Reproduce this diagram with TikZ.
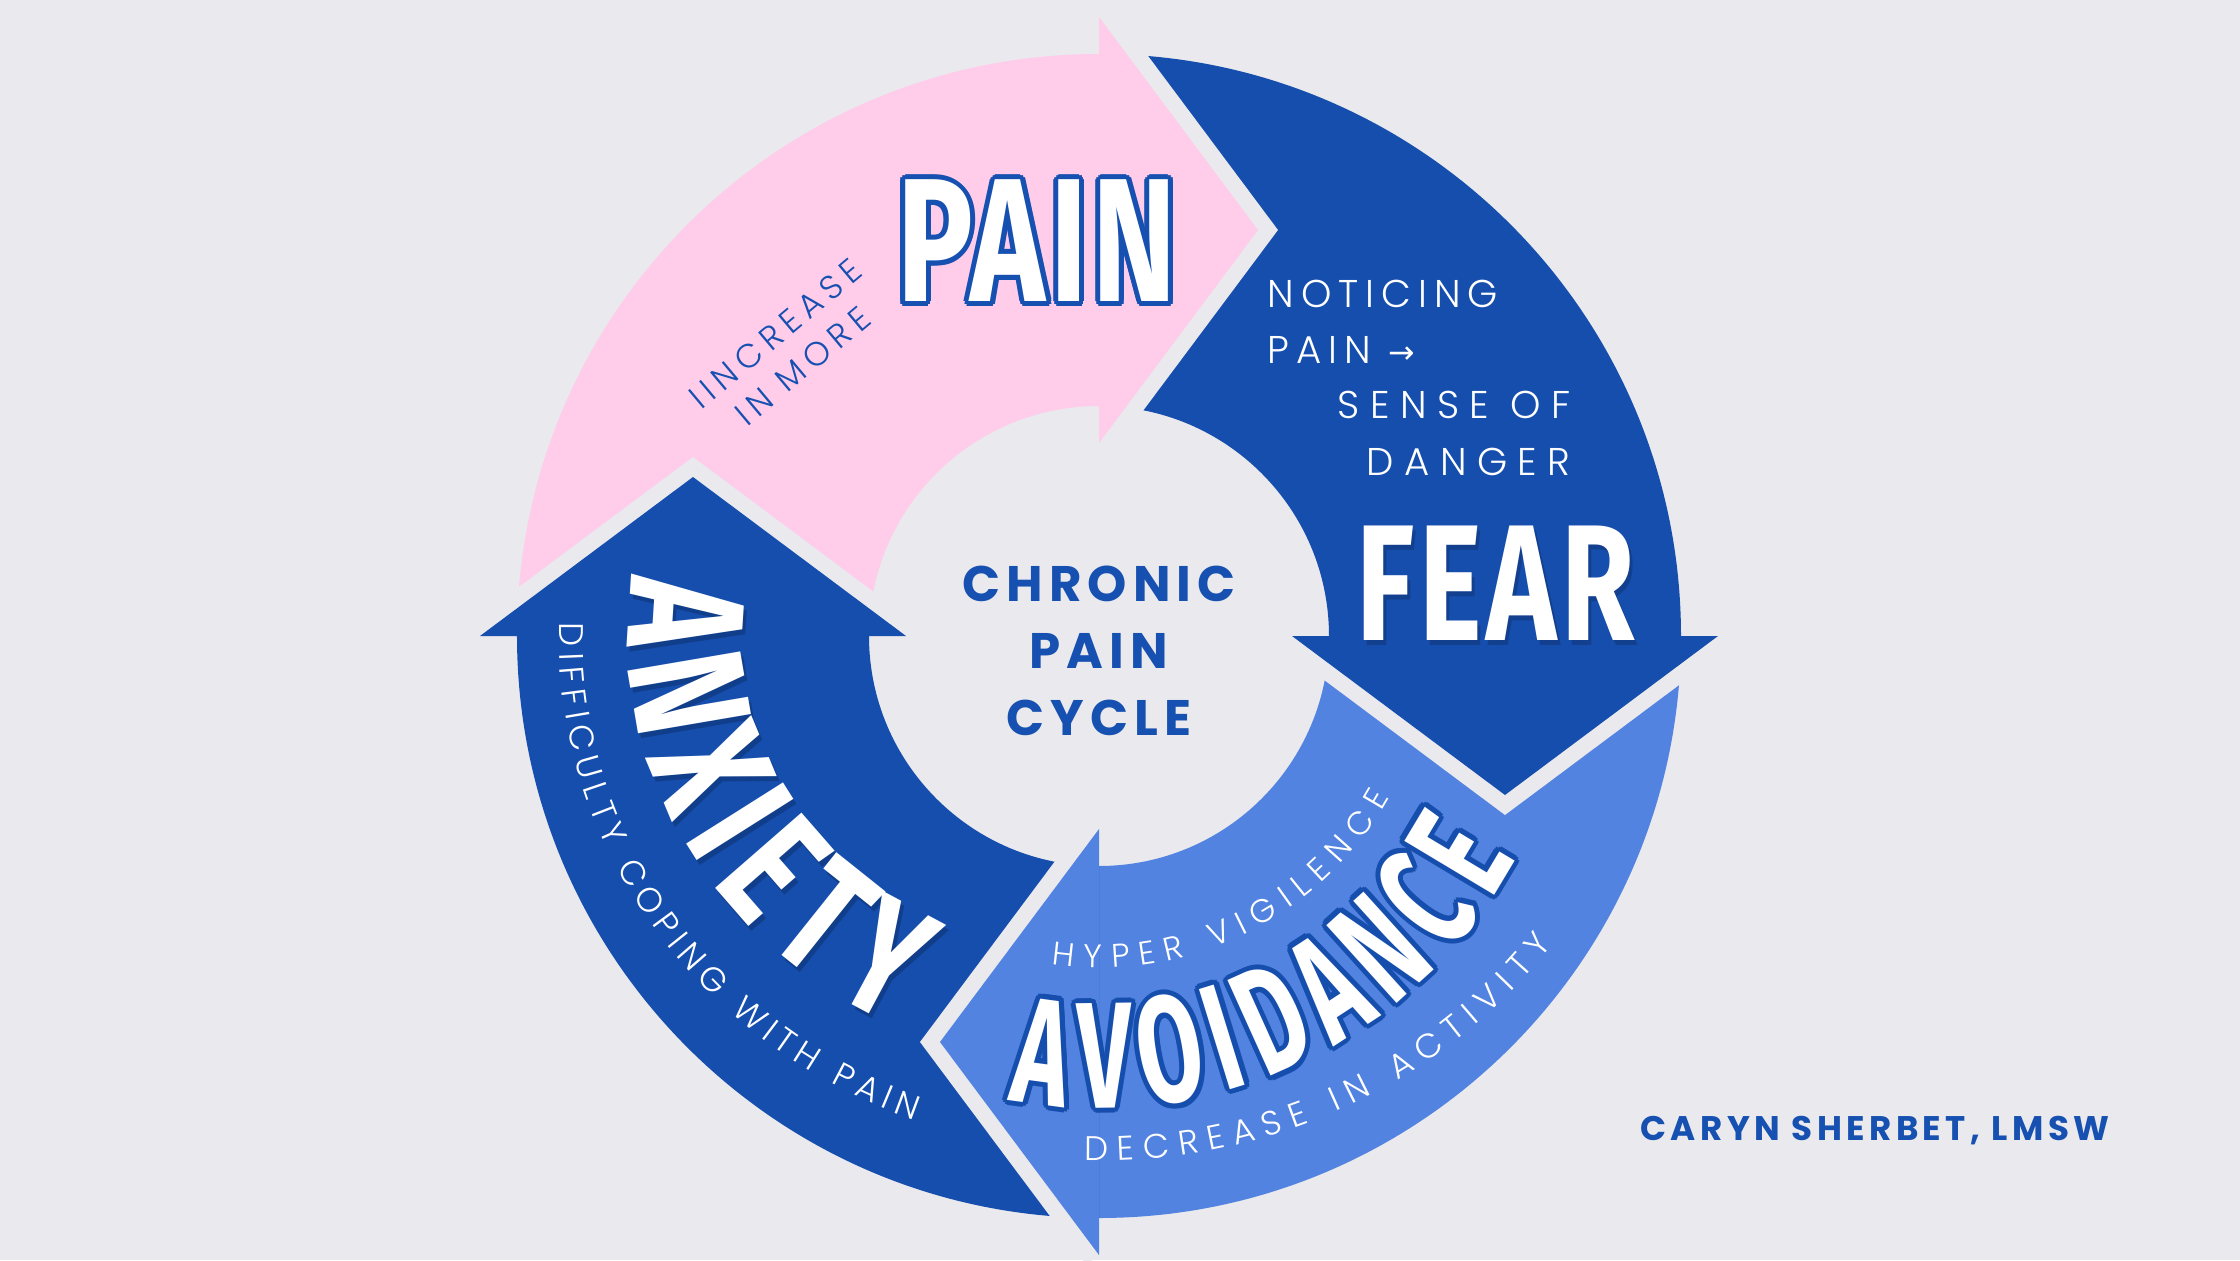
\documentclass[tikz,border=0pt]{standalone}
\usepackage{fontspec}
\usetikzlibrary{decorations.text}

\setmainfont{Poppins}
\newfontfamily\dispfont{Fira Sans}[FakeStretch=0.72]
\newfontfamily\narrowfont{Fira Sans}[FakeStretch=0.62]
\newfontfamily\arrowfont{DejaVu Sans}
\IfFontExistsTF{Poppins Light}
  {\newfontfamily\thinfont{Poppins Light}}
  {\newfontfamily\thinfont{Poppins}}

\definecolor{bgcol}{RGB}{234,233,238}
\definecolor{pinkcol}{RGB}{255,204,234}
\definecolor{darkblue}{RGB}{22,78,174}
\definecolor{lightblue}{RGB}{82,131,224}
\definecolor{inkblue}{RGB}{22,80,176}

\tikzset{
  gapline/.style={draw=bgcol, line width=0.32cm, line join=miter},
  bigword/.style={font=\dispfont\bfseries\fontsize{#1}{#1}\selectfont\addfontfeature{LetterSpace=3}, inner sep=0pt},
  thinword/.style={font=\thinfont\fontsize{11}{13}\selectfont\addfontfeature{LetterSpace=#1}, text=white, inner sep=0pt},
}

% quarter of the ring, from angle #1 clockwise
\newcommand{\ringbody}[2]{\fill[#2] (#1:582) arc[start angle=#1, end angle=#1-90, radius=582] -- (#1-90:230) arc[start angle=#1-90, end angle=#1, radius=230] -- cycle;}
% arrow head on the ray at angle #1
\newcommand{\ringhead}[2]{%
  \begin{scope}[rotate=#1]
    \draw[gapline] (193,0) -- (406,-159) -- (619,0);
    \fill[#2] (193,0) -- (406,-159) -- (619,0) -- cycle;
  \end{scope}}

\begin{document}
\begin{tikzpicture}[x=0.01cm, y=0.01cm]
\useasboundingbox (-1099,-624) rectangle (1141,636);
\fill[bgcol] (-1099,-624) rectangle (1141,636);

% arrow bodies
\ringbody{180}{pinkcol}
\ringbody{90}{darkblue}
\ringbody{0}{lightblue}
\ringbody{-90}{darkblue}

% arrow heads
\ringhead{90}{pinkcol}
\ringhead{0}{darkblue}
\ringhead{-90}{lightblue}
\ringhead{180}{darkblue}

% centre
\node[font=\bfseries\fontsize{14.2}{19}\selectfont\addfontfeature{LetterSpace=12}, text=inkblue, align=center, inner sep=0pt] (cyclename) at (0,-15) {CHRONIC\\PAIN\\CYCLE};

% pain
\foreach \a in {0,30,...,330}
  \node[bigword=50, text=inkblue, shift={(\a:5)}] (painline\a) at (-62,395) {PAIN};
\node[bigword=50, text=white] (painword) at (-62,395) {PAIN};
\node[font=\thinfont\fontsize{9.5}{12}\selectfont\addfontfeature{LetterSpace=20}, text=inkblue, align=center, rotate=40, inner sep=0pt] (increase) at (-310,286) {IINCREASE\\IN MORE};

% fear
\node[bigword=47, text=black, text opacity=0.18, shift={(3,-5)}] (fearshade) at (397,53) {FEAR};
\node[bigword=47, text=white] (fearword) at (397,53) {FEAR};
\node[thinword=18, anchor=base west] (notice1) at (168,329) {NOTICING};
\node[thinword=18, anchor=base west] (notice2) at (168,273) {PAIN {\arrowfont\fontsize{9}{9}\selectfont →}};
\node[thinword=27, anchor=base east] (notice3) at (472,218) {SENSE OF};
\node[thinword=27, anchor=base east] (notice4) at (472,161) {DANGER};

% avoidance
\path[decorate, decoration={text along path, text={|\thinfont\fontsize{9.3}{9.3}\selectfont|HYPER VIGILENCE}, text align={fit to path}, text color=white}] (261.8:332) arc[start angle=261.8, end angle=331, radius=332];
\foreach \a in {0,30,...,330}
  \path[shift={(\a:5)}, decorate, decoration={text along path, text={|\narrowfont\bfseries\fontsize{43}{43}\selectfont|AVOIDANCE}, text align={fit to path}, text color=darkblue}] (259:472) arc[start angle=259, end angle=332, radius=472];
\path[decorate, decoration={text along path, text={|\narrowfont\bfseries\fontsize{43}{43}\selectfont|AVOIDANCE}, text align={fit to path}, text color=white}] (259:472) arc[start angle=259, end angle=332, radius=472];
\path[decorate, decoration={text along path, text={|\thinfont\fontsize{9.7}{9.7}\selectfont|DECREASE IN ACTIVITY}, text align={fit to path}, text color=white}] (268.5:560 and 525) arc[start angle=268.5, end angle=324, x radius=560, y radius=525];

% anxiety
\begin{scope}[opacity=0.2]
\path[shift={(3,-5)}, decorate, decoration={text along path, text={|\dispfont\bfseries\fontsize{47}{47}\selectfont|ANXIETY}, text align={fit to path}, text color=black}] (172:471 and 432) arc[start angle=172, end angle=244, x radius=471, y radius=432];
\end{scope}
\path[decorate, decoration={text along path, text={|\dispfont\bfseries\fontsize{47}{47}\selectfont|ANXIETY}, text align={fit to path}, text color=white}] (172:471 and 432) arc[start angle=172, end angle=244, x radius=471, y radius=432];
\path[decorate, decoration={text along path, text={|\thinfont\fontsize{9.7}{9.7}\selectfont|DIFFICULTY COPING WITH PAIN}, text align={fit to path}, text color=white}] (178.5:540 and 515) arc[start angle=178.5, end angle=250, x radius=540, y radius=515];

% credit
\node[font=\bfseries\fontsize{9.7}{12}\selectfont\addfontfeature{LetterSpace=13}, text=inkblue, inner sep=0pt] (author) at (776,-495) {CARYN SHERBET, LMSW};
\end{tikzpicture}
\end{document}
